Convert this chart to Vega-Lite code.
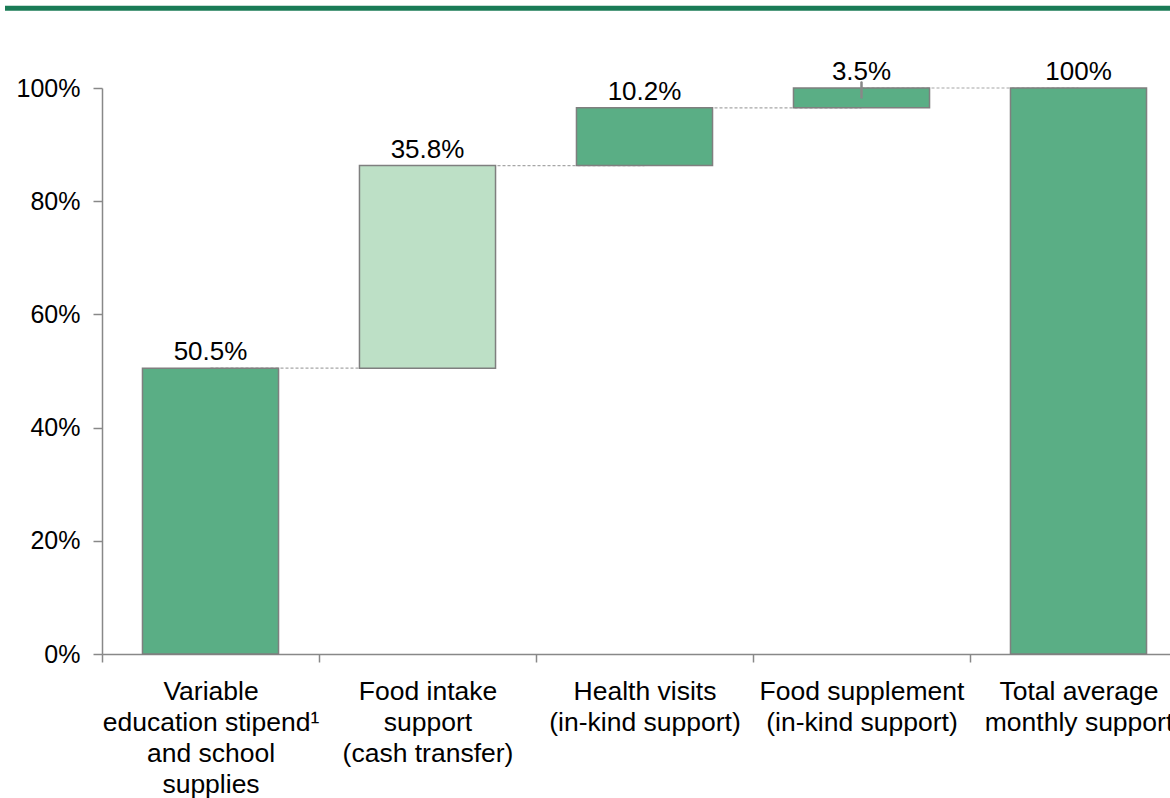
{
  "$schema": "https://vega.github.io/schema/vega-lite/v6.json",
  "width": 1068,
  "height": 566,
  "autosize": {"type": "none"},
  "padding": {"left": 102, "top": 88, "right": 0, "bottom": 144},
  "background": "white",
  "config": {
    "view": {"stroke": null},
    "font": "Liberation Sans",
    "axis": {
      "labelFont": "Liberation Sans",
      "labelFontSize": 25,
      "labelColor": "#000000",
      "domainColor": "#888888",
      "tickColor": "#888888",
      "domainWidth": 1.5,
      "tickWidth": 1.5,
      "grid": false,
      "title": null
    }
  },
  "data": {
    "values": [
      {"cat": "Variable|education stipend¹|and school|supplies", "next": "Food intake|support|(cash transfer)", "start": 0, "end": 0.505, "label": "50.5%", "kind": "dark"},
      {"cat": "Food intake|support|(cash transfer)", "next": "Health visits|(in-kind support)", "start": 0.505, "end": 0.863, "label": "35.8%", "kind": "light"},
      {"cat": "Health visits|(in-kind support)", "next": "Food supplement|(in-kind support)", "start": 0.863, "end": 0.965, "label": "10.2%", "kind": "dark"},
      {"cat": "Food supplement|(in-kind support)", "next": "Total average|monthly support", "start": 0.965, "end": 1.0, "label": "3.5%", "kind": "dark"},
      {"cat": "Total average|monthly support", "next": null, "start": 0, "end": 1.0, "label": "100%", "kind": "dark"}
    ]
  },
  "layer": [
    {
      "encoding": {
        "x": {
          "field": "cat",
          "type": "nominal",
          "sort": null,
          "scale": {"range": [0, 1085], "paddingInner": 0, "paddingOuter": 0},
          "axis": {
            "labelAngle": 0,
            "tickBand": "extent",
            "tickSize": 8,
            "labelPadding": 16,
            "labelLimit": 0,
            "labelFontSize": 26.5,
            "labelLineHeight": 31,
            "labelExpr": "split(datum.label, '|')"
          }
        }
      },
      "layer": [
        {
          "transform": [{"filter": "datum.next != null"}],
          "mark": {"type": "rule", "color": "#a6a6a6", "strokeWidth": 1.2, "strokeDash": [3, 2]},
          "encoding": {
            "x2": {"field": "next"},
            "y": {"field": "end", "type": "quantitative", "scale": {"domain": [0, 1], "nice": false}}
          }
        },
        {
          "mark": {"type": "bar", "width": {"band": 0.627}, "stroke": "#7f7f7f", "strokeWidth": 1.5},
          "encoding": {
            "y": {
              "field": "start",
              "type": "quantitative",
              "scale": {"domain": [0, 1], "nice": false},
              "axis": {
                "values": [0, 0.2, 0.4, 0.6, 0.8, 1],
                "format": ".0%",
                "tickSize": 9,
                "labelPadding": 13
              }
            },
            "y2": {"field": "end"},
            "color": {
              "field": "kind",
              "type": "nominal",
              "scale": {"domain": ["dark", "light"], "range": ["#5aae85", "#bde0c6"]},
              "legend": null
            }
          }
        },
        {
          "mark": {"type": "text", "baseline": "alphabetic", "dy": -8, "fontSize": 26, "color": "#000000"},
          "encoding": {
            "y": {"field": "end", "type": "quantitative"},
            "text": {"field": "label"}
          }
        },
        {
          "mark": {"type": "rule", "color": "#888888", "strokeWidth": 1.5},
          "encoding": {
            "x": {"datum": "Food supplement|(in-kind support)"},
            "y": {"datum": 0.982},
            "y2": {"datum": 1.011}
          }
        }
      ]
    },
    {
      "data": {"values": [{"a": 0, "b": 1, "level": 1.141}]},
      "mark": {"type": "rule", "color": "#1a7b56", "strokeWidth": 5, "clip": false},
      "encoding": {
        "x": {"field": "a", "type": "quantitative", "scale": {"domain": [0, 1], "range": [-97, 1068]}, "axis": null},
        "x2": {"field": "b"},
        "y": {"field": "level", "type": "quantitative"}
      }
    }
  ],
  "resolve": {"scale": {"x": "independent"}}
}
